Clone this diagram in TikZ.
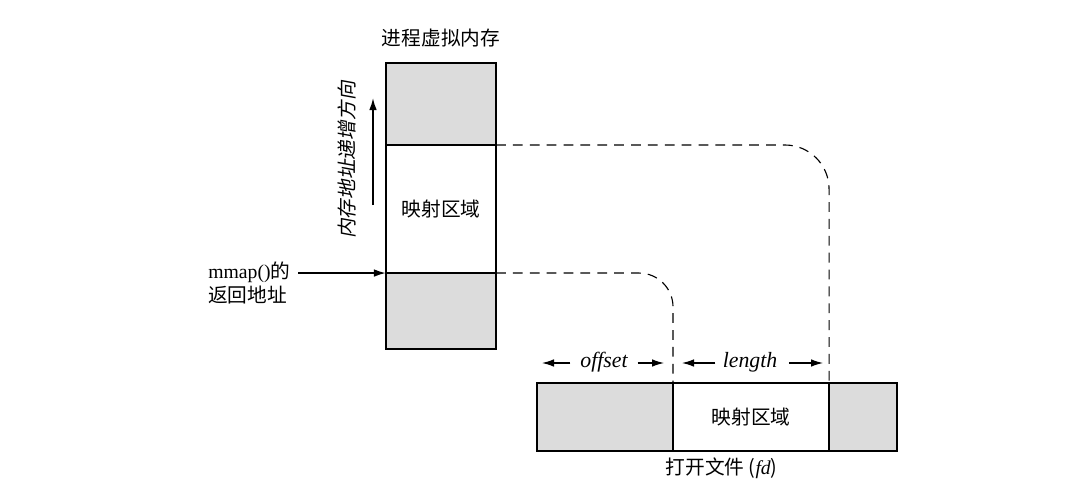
\documentclass[tikz,border=0pt]{standalone}
\usepackage{fontspec}
\setmainfont{Liberation Serif}
\newfontfamily\cjk{Noto Sans CJK SC}
\newfontfamily\cjkslant[FakeSlant=0.18]{Noto Sans CJK SC}
\usetikzlibrary{positioning, arrows.meta}
\definecolor{segfill}{HTML}{DCDCDC}

\begin{document}
\begin{tikzpicture}[
    x=0.025cm, y=-0.025cm,
    >={Latex[length=3mm,width=1.9mm]},
    seg/.style={
        draw,
        rectangle,
        line width=1.3pt,
        inner sep=0pt,
        outer sep=0pt,
        font=\cjk\fontsize{14}{16}\selectfont
    },
    memseg/.style={seg, minimum width=2.75cm},
    fileseg/.style={seg, minimum height=1.7cm},
    shaded/.style={fill=segfill},
    label/.style={font=\cjk\fontsize{14}{17}\selectfont, inner sep=1pt},
    lenlabel/.style={font=\fontsize{15.5}{17}\selectfont\itshape, inner sep=1pt},
    arrow/.style={->, line width=1.2pt},
    lenarrow/.style={->, line width=0.9pt},
    dashline/.style={line width=0.8pt, dash pattern=on 7pt off 5pt},
    node distance=0pt
]
\useasboundingbox (0,0) rectangle (1080,499);

% Process virtual memory
\node[memseg, shaded, minimum height=2.05cm] (memtop) at (441,104) {};
\node[memseg, minimum height=3.2cm, below=of memtop] (memmid) {映射区域};
\node[memseg, shaded, minimum height=1.9cm, below=of memmid] (membot) {};
\node[label, above=10pt of memtop] (memtitle) {进程虚拟内存};

% Growth direction
\coordinate (upS) at (373,205);
\coordinate (upE) at (373,98);
\draw[arrow] (upS) -- (upE);
\node[label, font=\cjkslant\fontsize{14}{17}\selectfont, rotate=90] (growlbl) at (347,160) {内存地址递增方向};

% mmap() return address
\node[label, align=left, anchor=east] (retlbl) at (292,283) {{\rmfamily mmap()}的\\返回地址};
\coordinate (retS) at (298,273);
\draw[arrow] (retS) -- (membot.north west);

% Open file
\node[fileseg, shaded, minimum width=3.4cm] (filel) at (605,417) {};
\node[fileseg, minimum width=3.9cm, right=of filel] (filem) {映射区域};
\node[fileseg, shaded, minimum width=1.7cm, right=of filem] (filer) {};
\node[label, anchor=west] (filelbl) at (664,468) {打开文件 ({\rmfamily\itshape fd})};

% Mapping
\draw[dashline, rounded corners=1.1cm] (memmid.north east) -| (filem.north east);
\draw[dashline, rounded corners=0.85cm] (membot.north east) -| (filem.north west);

% offset / length
\node[lenlabel] (offlbl) at (604,362) {offset};
\node[lenlabel] (lenlbl) at (750,362) {length};
\coordinate (offL) at (542,363);
\coordinate (offR) at (664,363);
\coordinate (lenL) at (682,363);
\coordinate (lenR) at (823,363);
\draw[lenarrow] ([xshift=-6pt]offlbl.west |- offL) -- (offL);
\draw[lenarrow] ([xshift=6pt]offlbl.east |- offR) -- (offR);
\draw[lenarrow] ([xshift=-4pt]lenlbl.west |- lenL) -- (lenL);
\draw[lenarrow] ([xshift=7pt]lenlbl.east |- lenR) -- (lenR);

\end{tikzpicture}
\end{document}
